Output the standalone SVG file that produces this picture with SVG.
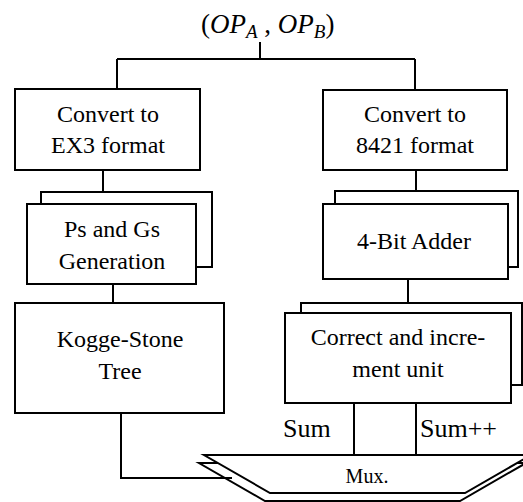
<svg xmlns="http://www.w3.org/2000/svg" width="523" height="502" viewBox="0 0 523 502">
<style>
.b{fill:#fff;stroke:#000;stroke-width:2}
.c{fill:none;stroke:#000;stroke-width:2}
.t{font-family:'Liberation Serif',serif;font-size:24px;fill:#000;text-anchor:middle}
.s{font-family:'Liberation Serif',serif;font-size:26px;fill:#000}
.m{font-family:'Liberation Serif',serif;font-size:20px;fill:#000;text-anchor:middle}
.ti{font-family:'Liberation Serif',serif;font-size:27px;fill:#000}
</style>
<rect width="523" height="502" fill="#fff"/>
<g id="title">
<text class="ti" x="201" y="33">(<tspan font-style="italic">OP</tspan><tspan font-style="italic" font-size="19" dy="5">A</tspan><tspan dy="-5"> , </tspan><tspan font-style="italic">OP</tspan><tspan font-style="italic" font-size="19" dy="5">B</tspan><tspan dy="-5">)</tspan></text>
</g>
<g id="connectors">
<path class="c" d="M260,42 V59 M117,59 H415 M117,59 V89 M415,59 V90"/>
<path class="c" d="M103,170 V192"/>
<path class="c" d="M416,170 V191"/>
<path class="c" d="M113,284 V303"/>
<path class="c" d="M408,279 V303"/>
</g>
<g id="n-ex3">
<rect class="b" x="15" y="89" width="185" height="81"/>
<text class="t" x="108" y="122">Convert to</text>
<text class="t" x="108" y="153">EX3 format</text>
</g>
<g id="n-8421">
<rect class="b" x="323" y="90" width="184" height="80"/>
<text class="t" x="415" y="122">Convert to</text>
<text class="t" x="415" y="153">8421 format</text>
</g>
<g id="n-psgs">
<rect class="b" x="41" y="192" width="171" height="75"/>
<rect class="b" x="27" y="204" width="169" height="80"/>
<text class="t" x="112" y="237">Ps and Gs</text>
<text class="t" x="112" y="269">Generation</text>
</g>
<g id="n-adder">
<rect class="b" x="335" y="191" width="183" height="76"/>
<rect class="b" x="323" y="204" width="185" height="75"/>
<text class="t" x="414" y="249">4-Bit Adder</text>
</g>
<g id="n-kogge">
<rect class="b" x="15" y="303" width="209" height="110"/>
<text class="t" x="120" y="347">Kogge-Stone</text>
<text class="t" x="120" y="379">Tree</text>
</g>
<g id="n-correct">
<rect class="b" x="301" y="303" width="221" height="82"/>
<rect class="b" x="285" y="313" width="226" height="90"/>
<text class="t" x="398" y="345">Correct and incre-</text>
<text class="t" x="398" y="377">ment unit</text>
</g>
<g id="n-mux">
<polygon class="b" points="199,463 526,463 460,501 265,501"/>
<polygon class="b" points="204,455 531,455 465,493 270,493"/>
<text class="m" x="367" y="483">Mux.</text>
</g>
<g id="connectors2">
<path class="c" d="M354,403 V455 M416,403 V455"/>
<path class="c" d="M121,413 V478 H232"/>
</g>
<g id="labels">
<text class="s" x="283" y="437">Sum</text>
<text class="s" x="420" y="437">Sum++</text>
</g>
</svg>
